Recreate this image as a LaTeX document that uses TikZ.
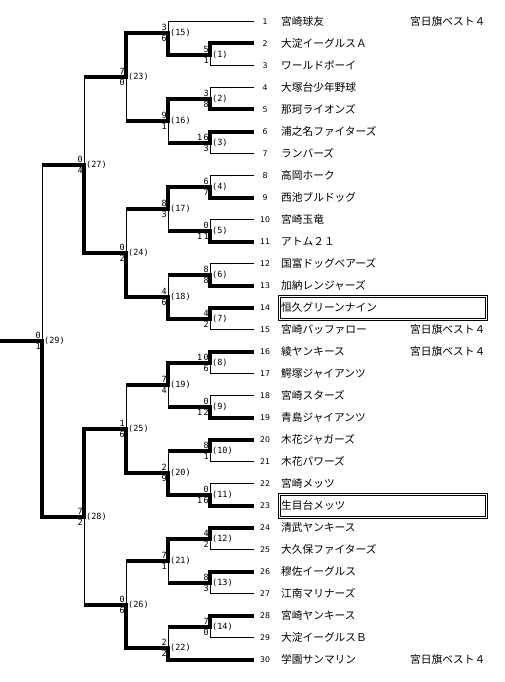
\documentclass[tikz,border=0pt]{standalone}
\usepackage{fontspec}
\setmainfont{DejaVu Sans}
\newfontfamily\jpfont{Noto Sans CJK JP}
\newfontfamily\scorefont{DejaVu Sans Mono}
\begin{document}
\begin{tikzpicture}[x=1pt,y=-1pt,
  thinline/.style={line width=1pt},
  win/.style={line width=4pt, line join=miter},
  score/.style={font=\scorefont\fontsize{8.5}{8.5}\selectfont, inner sep=0pt},
  mlabel/.style={font=\scorefont\fontsize{8.5}{8.5}\selectfont, inner sep=0pt, anchor=west},
  tnum/.style={font=\fontsize{7.8}{7.8}\selectfont, inner sep=0pt},
  tname/.style={font=\jpfont\fontsize{10.7}{10.7}\selectfont, inner sep=0pt, anchor=west},
  champbox/.style={draw, line width=1pt, double, double distance=1pt}]
\useasboundingbox (0,0) rectangle (505,682);
\fill[white] (0,0) rectangle (505,682);

% leaf end points
\foreach \i in {1,...,30} { \coordinate (L\i) at (254,22*\i-0.5); }
% match points
\foreach \m/\x/\y in {1/210/55, 2/210/99, 3/210/143, 4/210/187, 5/210/231, 6/210/275, 7/210/319,
  8/210/363, 9/210/407, 10/210/451, 11/210/495, 12/210/539, 13/210/583, 14/210/627,
  15/168/33, 16/168/121, 17/168/209, 18/168/297, 19/168/385, 20/168/473, 21/168/561, 22/168/648,
  23/126/77, 24/126/253, 25/126/429, 26/126/605,
  27/84/165, 28/84/517, 29/42/341}
  { \coordinate (m\m) at (\x,\y); }
\coordinate (start) at (0,341);

% thin verticals of every match
\foreach \m/\a/\b in {1/L2/L3, 2/L4/L5, 3/L6/L7, 4/L8/L9, 5/L10/L11, 6/L12/L13, 7/L14/L15,
  8/L16/L17, 9/L18/L19, 10/L20/L21, 11/L22/L23, 12/L24/L25, 13/L26/L27, 14/L28/L29,
  15/L1/m1, 16/m2/m3, 17/m4/m5, 18/m6/m7, 19/m8/m9, 20/m10/m11, 21/m12/m13, 22/m14/L30,
  23/m15/m16, 24/m17/m18, 25/m19/m20, 26/m21/m22, 27/m23/m24, 28/m25/m26, 29/m27/m28}
  { \draw[thinline] (m\m |- \a) -- (m\m |- \b); }

% thin leaf lines
\foreach \t/\m in {1/15, 2/1, 3/1, 4/2, 5/2, 6/3, 7/3, 8/4, 9/4, 10/5, 11/5, 12/6, 13/6, 14/7, 15/7,
  16/8, 17/8, 18/9, 19/9, 20/10, 21/10, 22/11, 23/11, 24/12, 25/12, 26/13, 27/13, 28/14, 29/14, 30/22}
  { \draw[thinline] (L\t) -- (L\t -| m\m); }

% thick paths of the winners
\draw[win] (L2) -| (m1) -| (m15) -| (m23) -- (m23 -| m27);
\draw[win] (L5) -| (m2) -| (m16) -- (m16 -| m23);
\draw[win] (L6) -| (m3) -- (m3 -| m16);
\draw[win] (L9) -| (m4) -| (m17) -- (m17 -| m24);
\draw[win] (L11) -| (m5) -- (m5 -| m17);
\draw[win] (L13) -| (m6) -- (m6 -| m18);
\draw[win] (L14) -| (m7) -| (m18) -| (m24) -| (m27) -- (m27 -| m29);
\draw[win] (L16) -| (m8) -| (m19) -- (m19 -| m25);
\draw[win] (L19) -| (m9) -- (m9 -| m19);
\draw[win] (L20) -| (m10) -- (m10 -| m20);
\draw[win] (L23) -| (m11) -| (m20) -| (m25) -| (m28) -| (m29) -- (start);
\draw[win] (L24) -| (m12) -| (m21) -- (m21 -| m26);
\draw[win] (L26) -| (m13) -- (m13 -| m21);
\draw[win] (L28) -| (m14) -- (m14 -| m22);
\draw[win] (L30) -| (m22) -| (m26) -- (m26 -| m28);

% scores and match numbers
\foreach \m/\s/\r in {1/5/1, 2/3/8, 3/1\kern1.5pt6/3, 4/6/7, 5/0/1\kern1.5pt1, 6/8/8, 7/4/2,
  8/1\kern1.5pt0/6, 9/0/1\kern1.5pt2, 10/8/1, 11/0/1\kern1.5pt6, 12/4/2, 13/8/3, 14/7/0,
  15/3/6, 16/9/1, 17/8/3, 18/4/6, 19/7/4, 20/2/9, 21/7/1, 22/2/2,
  23/7/0, 24/0/2, 25/1/6, 26/0/6, 27/0/4, 28/7/2, 29/0/1}
  {
  \node[score, anchor=south east] (st\m) at ([xshift=-1pt,yshift=2.5pt]m\m) {\s};
  \node[score, anchor=north east] (sb\m) at ([xshift=-1pt,yshift=-2pt]m\m) {\r};
  \node[mlabel] (lab\m) at ([xshift=2pt]m\m) {(\m)};
  }

% champion and runner-up boxes
\draw[champbox] (279,22*14-11.5) rectangle (486,22*14+11);
\draw[champbox] (279,22*23-11.5) rectangle (486,22*23+11);

% team numbers and names
\foreach \i/\nm in {1/宮崎球友, 2/大淀イーグルスＡ, 3/ワールドボーイ, 4/大塚台少年野球, 5/那珂ライオンズ,
  6/浦之名ファイターズ, 7/ランバーズ, 8/高岡ホーク, 9/西池ブルドッグ, 10/宮崎玉竜,
  11/アトム２１, 12/国富ドッグベアーズ, 13/加納レンジャーズ, 14/恒久グリーンナイン, 15/宮崎バッファロー,
  16/綾ヤンキース, 17/鰐塚ジャイアンツ, 18/宮崎スターズ, 19/青島ジャイアンツ, 20/木花ジャガーズ,
  21/木花パワーズ, 22/宮崎メッツ, 23/生目台メッツ, 24/清武ヤンキース, 25/大久保ファイターズ,
  26/穆佐イーグルス, 27/江南マリナーズ, 28/宮崎ヤンキース, 29/大淀イーグルスＢ, 30/学園サンマリン}
  {
  \node[tnum] (n\i) at (265,22*\i-0.5) {\i};
  \node[tname] (name\i) at (281,22*\i-0.5) {\nm};
  }
\foreach \i in {1,15,16,30}
  { \node[tname] (best\i) at (410,22*\i-0.5) {宮日旗ベスト４}; }
\end{tikzpicture}
\end{document}
